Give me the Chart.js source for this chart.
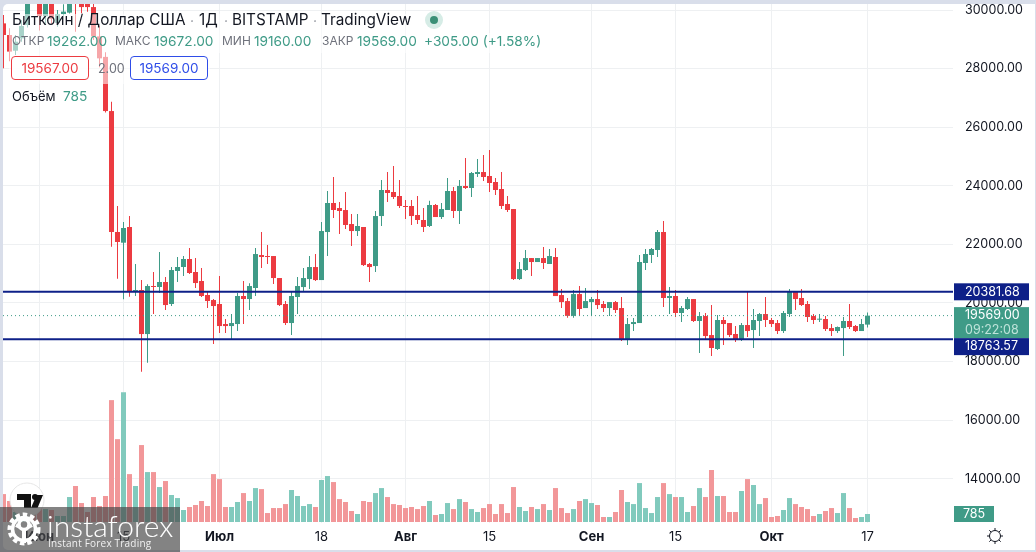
<!DOCTYPE html>
<html lang="ru">
<head>
<meta charset="utf-8">
<title>BTCUSD</title>
<script src="https://cdn.jsdelivr.net/npm/chart.js@4"></script>
<style>
html,body{margin:0;padding:0;background:#d9deea;width:1036px;height:552px;overflow:hidden}
#panel{position:absolute;left:3px;top:4px;width:1032px;height:546px;background:#fff;border-radius:5px 0 0 5px}
#c{position:absolute;left:0;top:0}
.t{position:absolute;white-space:nowrap;font-family:Inter,"Liberation Sans",sans-serif;line-height:18px;height:18px}
.fade{position:absolute;background:rgba(255,255,255,.55)}
.box{position:absolute;box-sizing:border-box;width:78px;height:24px;top:56px;border:1px solid;border-radius:4px;background:rgba(255,255,255,.85);font:13.5px/22px Inter,"Liberation Sans",sans-serif;text-align:center}
#wm{position:absolute;left:0;top:507px;width:180px;height:45px;background:rgba(72,72,72,.68)}
.lb{font-size:12px;color:#6f727c}
.vl{font-size:13.7px;color:#3f9b87}
.tl{font-size:15.3px;color:#131722}
</style>
</head>
<body>
<div id="panel"></div>
<canvas id="c" width="1036" height="552"></canvas>

<div class="fade" style="left:9px;top:14px;width:441px;height:19px"></div>
<div class="fade" style="left:9px;top:33px;width:532px;height:20px"></div>
<div class="fade" style="left:9px;top:53px;width:201px;height:31px"></div>

<div class="t tl" style="left:12px;top:11px">Биткоин / Доллар США</div>
<div class="t" style="left:190px;top:12px;font-size:14px;color:#9598a1">·</div>
<div class="t tl" style="left:199px;top:11px">1Д</div>
<div class="t" style="left:224px;top:12px;font-size:14px;color:#9598a1">·</div>
<div class="t tl" style="left:232px;top:11px">BITSTAMP</div>
<div class="t" style="left:313px;top:12px;font-size:14px;color:#9598a1">·</div>
<div class="t tl" style="left:321px;top:11px">TradingView</div>
<svg style="position:absolute;left:424px;top:10px" width="20" height="20"><circle cx="10" cy="10" r="9" fill="#d6ece6"/><circle cx="10" cy="10" r="4" fill="#3a8f76"/></svg>

<div class="t lb" style="left:12px;top:32px">ОТКР</div>
<div class="t vl" style="left:47px;top:32px">19262.00</div>
<div class="t lb" style="left:115px;top:32px">МАКС</div>
<div class="t vl" style="left:154px;top:32px">19672.00</div>
<div class="t lb" style="left:222px;top:32px">МИН</div>
<div class="t vl" style="left:254px;top:32px">19160.00</div>
<div class="t lb" style="left:322px;top:32px">ЗАКР</div>
<div class="t vl" style="left:357px;top:32px">19569.00</div>
<div class="t vl" style="left:424px;top:32px">+305.00 (+1.58%)</div>

<div class="box" style="left:11px;color:#ec3b41;border-color:#ec3b41">19567.00</div>
<div class="t" style="left:98px;top:60px;font-size:12.5px;color:#6f727c">2.00</div>
<div class="box" style="left:130px;color:#2f4de8;border-color:#2f4de8">19569.00</div>
<div class="t" style="left:12px;top:87px;font-size:13px;color:#131722">Объём</div>
<div class="t" style="left:63px;top:87px;font-size:13.7px;color:#3f9b87">785</div>

<svg style="position:absolute;left:9px;top:482px" width="36" height="36" viewBox="0 0 36 36">
  <circle cx="18" cy="18" r="17" fill="#fff" stroke="#e6e6e6"/>
  <path d="M8 12h14v14h-7v-8H8z" fill="#111"/><circle cx="26" cy="15" r="3" fill="#111"/>
  <path d="M25 26l5.5-13H37l-5.5 13z" fill="#111" transform="translate(-3 0)"/>
</svg>
<svg style="position:absolute;left:986px;top:527px" width="18" height="18" viewBox="0 0 18 18" fill="none" stroke="#131722" stroke-width="1">
  <circle cx="9" cy="9" r="5.5"/>
  <path d="M9 1v2.5M9 14.5V17M1 9h2.5M14.5 9H17M3.3 3.3l1.8 1.8M12.9 12.9l1.8 1.8M3.3 14.7l1.8-1.8M12.9 5.1l1.8-1.8"/>
</svg>

<div id="wm">
  <svg style="position:absolute;left:6px;top:4px" width="36" height="36" viewBox="0 0 36 36" fill="none" stroke="#fff">
    <circle cx="18" cy="18" r="14.5" stroke-width="4" stroke-dasharray="4.5 2.9"/>
    <circle cx="18" cy="18" r="11.5" stroke-width="3.5"/>
    <circle cx="18" cy="13.5" r="5" stroke-width="3.5"/>
    <path d="M18 18v14M10 14l4 2M26 14l-4 2" stroke-width="4"/>
  </svg>
  <div class="t" style="left:47px;top:3px;height:30px;line-height:30px;font-family:Lato,Inter,sans-serif;font-weight:300;font-size:30px;color:#fff;letter-spacing:0">instaforex</div>
  <div class="t" style="left:48px;top:28px;height:16px;line-height:16px;font-family:'Open Sans',sans-serif;font-size:10px;color:#f1f1f1;letter-spacing:.2px">Instant Forex Trading</div>
</div>

<script>
// Day numbers are counted from 1 June; the first candle is 26 May.
const firstDay = -6;
const tickDays = [0, 14, 30, 47, 61, 75, 92, 106, 122, 138];
const tickLabels = ['Июн', '15', 'Июл', '18', 'Авг', '15', 'Сен', '15', 'Окт', '17'];
const monthTicks = ['Июн', 'Июл', 'Авг', 'Сен', 'Окт'];
const priceTicks = [30000, 28000, 26000, 24000, 22000, 20000, 18000, 16000, 14000];

const opens = [29544,29146,28611,29032,29487,31790,
31790,29790,30450,29560,29860,29910,31370,31140,30220,30100,
29100,28400,26551,22423,22058,22593,20374,20443,18940,20579,
20545,20716,19965,21091,21228,21501,21057,20750,20272,20101,
19965,19282,19213,19282,20238,20135,20511,21637,21603,21603,
20852,19965,19316,20204,20544,20817,21227,20783,22422,23412,
23241,23173,22695,22456,22593,21330,21261,22968,23856,23788,
23651,23310,23310,23003,22832,22627,23344,22934,23173,23822,
23139,23993,23924,24402,24470,24334,24129,23890,23378,23207,
20817,21125,21534,21398,21534,21330,21569,20271,20066,19560,
20305,19827,20032,20135,19965,19828,20033,19828,18770,19282,
19316,21365,21638,21808,22423,20170,20238,19658,19794,20135,
19385,19555,18906,18429,19419,19316,18941,18770,19248,19077,
19385,19623,19419,19316,19043,19623,20375,20170,19965,19555,
19430,19453,19145,19043,19145,19385,19214,19043,19262];
const highs = [29829,29380,29146,29658,31900,32300,
32300,30600,30600,30000,30200,31700,31600,31300,30600,30400,
29450,28554,26870,23310,22764,22969,21330,20784,20640,21057,
21740,20886,21228,21569,21603,21876,21535,21193,20408,20135,
20920,19452,19623,20340,20750,20670,21876,22423,21979,21603,
20852,20067,20408,20886,21193,21603,21671,22764,23822,24300,
23446,23788,23037,23037,22593,21364,23139,24197,24471,24675,
24197,23515,23515,23651,23241,23492,23378,23412,24266,23958,
24197,24948,24471,24914,25051,25222,24266,24471,23651,23207,
21398,21807,21534,21534,21910,21842,21876,20476,20169,20442,
20578,20510,20203,20442,20067,20033,20067,20204,19487,19487,
21638,21843,21877,22491,22798,20545,20443,19897,20204,20135,
19692,19658,19931,19589,19521,19316,19214,19316,20409,19794,
19658,20204,19487,19419,19726,20477,20375,20477,20067,19623,
19623,19555,19282,19200,19521,19965,19248,19453,19672];
const lows = [28008,28250,28463,28918,29400,30950,
29300,29500,29520,29430,29800,29880,29260,29886,29943,28975,
28050,26500,21922,20829,20124,20215,20238,17654,17962,19623,
20340,19760,19896,20716,20920,20989,20511,20203,19828,18599,
18974,18974,18770,19043,19282,19760,20238,21193,21330,20647,
19896,19247,18906,19623,20374,20476,20749,20783,21603,22900,
22354,22525,21944,22286,21261,20715,21056,22627,23446,23549,
23241,22866,22661,22695,22422,22593,22934,22866,23173,22900,
22695,23890,23617,24300,24163,23788,23685,23207,23105,20783,
20783,21091,20920,21398,21159,21330,20237,19827,19500,19500,
19566,19827,19566,19793,19692,19555,19658,18702,18565,19043,
19316,21126,21365,21569,19862,19623,19521,19350,19760,19350,
18292,18736,18190,18394,18565,18838,18668,18702,18838,18463,
18872,19180,19180,18941,18975,19521,19760,19897,19350,19282,
19350,19043,18872,18975,18190,19111,19009,19043,19160];
const closes = [29146,28580,28918,29453,31720,31700,
29790,30450,29700,29860,29945,31370,31140,30100,30100,29100,
28350,26551,22423,22081,22559,20374,20443,18940,20579,20545,
20716,19930,21125,21228,21501,21023,20681,20238,20067,19896,
19213,19213,19316,20238,20135,20579,21671,21569,21569,20852,
19930,19316,20238,20579,20852,21227,20783,22456,23412,23173,
23139,22661,22456,22627,21295,21227,22968,23856,23754,23617,
23310,23276,22968,22832,22593,23344,22934,23207,23822,23139,
23993,23924,24436,24470,24300,24095,23856,23310,23173,20817,
21159,21534,21398,21534,21364,21603,20237,20032,19560,20305,
19794,20066,20135,19930,19828,20033,19760,18770,19282,19350,
21399,21672,21843,22423,20170,20238,19658,19828,20135,19385,
19555,18872,18463,19419,19282,18906,18770,19248,19043,19419,
19623,19419,19282,19043,19658,20375,20135,19931,19521,19419,
19453,19111,19043,19180,19385,19180,19043,19282,19569];
const volumes = [2740,2060,980,1080,1370,1180,
1370,1270,1180,590,590,2450,3530,1860,980,2450,
1570,2550,11960,8130,12740,4700,3530,7550,4900,4900,
3430,4020,2650,2350,1180,1470,1670,2060,1570,4700,
4210,1470,1470,1960,2840,2060,3330,3230,880,1370,
1370,1760,3140,2550,1570,1760,1470,4120,4510,3920,
2250,1960,1080,785,2060,1960,2840,3330,2450,1760,
1670,1370,1470,1270,1570,2060,690,785,1860,1270,
2250,1960,1270,980,1370,1760,785,1760,880,3430,
1470,1080,1470,1270,1760,1180,3330,1370,880,1270,
2060,2250,1860,1670,490,490,980,3140,1960,1760,
3820,1370,880,2450,3820,2740,2450,2450,980,1570,
3330,2450,5100,2550,2550,980,980,3040,4210,3630,
1760,2350,490,590,1180,2350,1760,1470,1270,590,
785,1080,1370,880,2840,1370,390,490,785];

const lastClose = 19569;
const levelHigh = 20381.68;
const levelLow = 18763.57;
const lastVolume = 785;
const countdown = '09:22:08';

const UP = '#3f9b87', DOWN = '#ec3b41', VOL_UP = '#81cabd', VOL_DOWN = '#f29799';
const NAVY = '#0e2088', GRID = '#eef0f2', INK = '#131722';
const FONT = 'Inter, "Liberation Sans", sans-serif';

const isUp = i => closes[i] >= opens[i];
const dayOf = i => firstDay + i;
const xMin = -6.0833, xMax = 152.25;

const wickData = opens.map((_, i) => ({x: dayOf(i), y: [lows[i], highs[i]]}));
const bodyData = opens.map((_, i) => ({x: dayOf(i), y: [opens[i], closes[i]]}));
const volData  = volumes.map((v, i) => ({x: dayOf(i), y: v}));
const colors = opens.map((_, i) => isUp(i) ? UP : DOWN);
const volColors = opens.map((_, i) => isUp(i) ? VOL_UP : VOL_DOWN);
const hLine = v => [{x: xMin, y: v}, {x: xMax, y: v}];

const tagsPlugin = {
  id: 'tags',
  afterDatasetsDraw(chart) {
    const {ctx, scales} = chart;
    const y = scales.y, L = 954, W = 75;
    const tag = (top, h, bg) => { ctx.fillStyle = bg; ctx.fillRect(L, top, W, h); };
    const txt = (s, cy, col) => { ctx.fillStyle = col; ctx.fillText(s, 965, cy); };
    ctx.save();
    ctx.font = '12.5px ' + FONT;
    ctx.textAlign = 'left';
    ctx.textBaseline = 'middle';
    const yHigh = y.getPixelForValue(levelHigh);
    const yLast = y.getPixelForValue(lastClose);
    tag(yHigh - 8.5, 17, NAVY);
    txt(levelHigh.toFixed(2), yHigh + .5, '#fff');
    tag(yLast - 8.5, 31, UP);
    txt(lastClose.toFixed(2), yLast, '#fff');
    txt(countdown, yLast + 14.5, '#bfe3da');
    tag(yLast + 22.5, 17, NAVY);
    txt(levelLow.toFixed(2), yLast + 31, '#fff');
    const yv = scales.v.getPixelForValue(lastVolume);
    ctx.fillStyle = UP;
    ctx.fillRect(L, yv - 8, 40, 16);
    ctx.fillStyle = '#fff';
    ctx.textAlign = 'center';
    ctx.fillText(String(lastVolume), L + 20, yv + .5);
    ctx.restore();
  }
};

new Chart(document.getElementById('c'), {
  type: 'bar',
  data: {
    datasets: [
      {type: 'line', data: hLine(levelHigh), borderColor: NAVY, borderWidth: 2, pointRadius: 0, yAxisID: 'y', order: 1},
      {type: 'line', data: hLine(levelLow), borderColor: NAVY, borderWidth: 2, pointRadius: 0, yAxisID: 'y', order: 1},
      {type: 'line', data: hLine(lastClose), borderColor: UP, borderWidth: 1, borderDash: [1, 3], pointRadius: 0, yAxisID: 'y', order: 0},
      {data: bodyData, backgroundColor: colors, barThickness: 5, grouped: false, inflateAmount: 0, minBarLength: 1, yAxisID: 'y', order: 2},
      {data: wickData, backgroundColor: colors, barThickness: 1, grouped: false, inflateAmount: 0, yAxisID: 'y', order: 3},
      {data: volData, backgroundColor: volColors, barThickness: 5, grouped: false, inflateAmount: 0, yAxisID: 'v', order: 4}
    ]
  },
  plugins: [tagsPlugin],
  options: {
    responsive: false,
    animation: false,
    devicePixelRatio: 1,
    layout: {autoPadding: false, padding: {left: 3, top: 4, right: 0, bottom: 0}},
    plugins: {legend: {display: false}, tooltip: {enabled: false}},
    scales: {
      x: {
        type: 'linear', position: 'bottom', min: xMin, max: xMax, offset: false,
        afterBuildTicks: s => { s.ticks = tickDays.map(v => ({value: v})); },
        afterFit: s => { s.height = 29; s.paddingLeft = 0; s.paddingRight = 0; s._margins = {left: 0, right: 0, top: 0, bottom: 0}; },
        border: {display: false},
        grid: {color: GRID, lineWidth: 1, drawTicks: false, offset: false},
        ticks: {
          autoSkip: false, maxRotation: 0, padding: 6, color: INK,
          callback: v => tickLabels[tickDays.indexOf(v)],
          font: c => ({family: FONT, size: 13,
            weight: monthTicks.includes(tickLabels[tickDays.indexOf(c.tick && c.tick.value)]) ? 'bold' : 'normal'})
        }
      },
      y: {
        position: 'right', min: 12491, max: 30205,
        afterBuildTicks: s => { s.ticks = priceTicks.map(v => ({value: v})); },
        afterFit: s => { s.width = 83; s.paddingTop = 0; s.paddingBottom = 0; s._margins = {left: 0, right: 0, top: 0, bottom: 0}; },
        border: {display: false},
        grid: {color: GRID, lineWidth: 1, drawTicks: false},
        ticks: {padding: 12, color: INK, callback: v => v.toFixed(2), font: {family: FONT, size: 12.5}}
      },
      v: {
        display: false, position: 'left', min: -98, max: 50829,
        grid: {display: false}
      }
    }
  }
});
</script>
</body>
</html>
